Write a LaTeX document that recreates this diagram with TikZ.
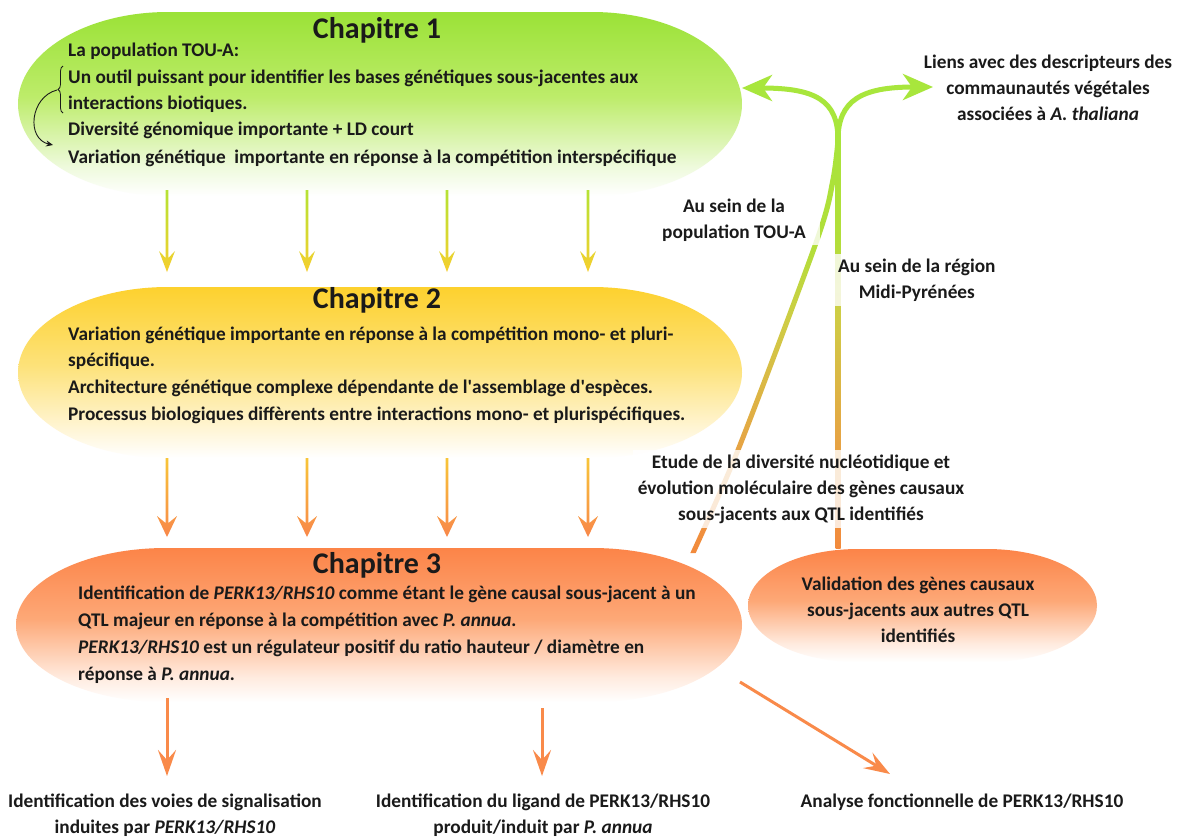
\documentclass[tikz,border=0pt]{standalone}
\usepackage{fontspec}
\setmainfont{Carlito}
\usetikzlibrary{arrows.meta,calc,decorations.pathreplacing}
\definecolor{c1a}{HTML}{9BE237}\definecolor{c1b}{HTML}{BDEC6A}\definecolor{c1c}{HTML}{EEFADC}
\definecolor{c2a}{HTML}{FDD12E}\definecolor{c2b}{HTML}{FDE27A}\definecolor{c2c}{HTML}{FFF6D8}
\definecolor{c3a}{HTML}{FC8448}\definecolor{c3b}{HTML}{FDA877}\definecolor{c3c}{HTML}{FFEBDF}
\definecolor{sO}{HTML}{F28A3C}\definecolor{sY2}{HTML}{E6A444}\definecolor{sY1}{HTML}{CFCC45}
\definecolor{sG2}{HTML}{B2DE3A}\definecolor{sG}{HTML}{A8E43A}
\definecolor{grn}{HTML}{A8E63C}\definecolor{arrO}{HTML}{F98A4A}
\definecolor{aG}{HTML}{B5E233}\definecolor{aY}{HTML}{F5CF2E}\definecolor{aY2}{HTML}{F8C538}\definecolor{aO}{HTML}{F8874A}
\definecolor{ink}{HTML}{1A1A1A}
\pgfdeclareverticalshading{chA}{100bp}{color(0bp)=(white); color(25bp)=(white); color(33bp)=(c1c); color(52bp)=(c1b); color(75bp)=(c1a); color(100bp)=(c1a)}
\pgfdeclareverticalshading{chB}{100bp}{color(0bp)=(white); color(25bp)=(white); color(33bp)=(c2c); color(52bp)=(c2b); color(75bp)=(c2a); color(100bp)=(c2a)}
\pgfdeclareverticalshading{chC}{100bp}{color(0bp)=(white); color(25bp)=(white); color(33bp)=(c3c); color(52bp)=(c3b); color(75bp)=(c3a); color(100bp)=(c3a)}
\pgfdeclareverticalshading{stem}{100bp}{color(0bp)=(sO); color(25bp)=(sO); color(38bp)=(sY2); color(53bp)=(sY1); color(62bp)=(sG2); color(75bp)=(sG); color(100bp)=(sG)}
\newcommand{\gradarrow}[5]{%
  \shade[top color=#3, bottom color=#4] ($(#1)+(-1.4,0)$) -- ($(#2)+(-1.4,14)$) -- ($(#2)+(-#5,21)$) -- (#2) -- ($(#2)+(#5,21)$) -- ($(#2)+(1.4,14)$) -- ($(#1)+(1.4,0)$) -- cycle;}
\begin{document}
\begin{tikzpicture}[x=1pt,y=1pt,
  txt/.style={font=\bfseries\fontsize{19.3}{26}\selectfont, text=ink, inner sep=0pt},
  line/.style={txt, anchor=base west},
  ttl/.style={font=\bfseries\fontsize{30}{32}\selectfont, text=ink, inner sep=0pt},
  lbl/.style={txt, align=center},
  gap/.style={fill=white, fill opacity=0.8, text opacity=1, inner sep=5pt},
  oarrow/.style={draw=arrO, line width=3pt, -{Stealth[length=26pt,width=18pt,inset=10pt]}},
  garrow/.style={draw=grn, line width=5pt, -{Stealth[length=30pt,width=26pt,inset=9pt]}},
]
\useasboundingbox (0,0) rectangle (1180,-836);
\fill[white] (0,0) rectangle (1180,-836);

% chapter shapes
\shade[shading=chA] (168,-12) -- (592,-12) arc[start angle=90,end angle=-90,x radius=150,y radius=92] -- (168,-196) arc[start angle=270,end angle=90,x radius=150,y radius=92] -- cycle;
\shade[shading=chB] (168,-287) -- (592,-287) arc[start angle=90,end angle=-90,x radius=150,y radius=85.5] -- (168,-458) arc[start angle=270,end angle=90,x radius=150,y radius=85.5] -- cycle;
\shade[shading=chC] (166,-548) -- (592,-548) arc[start angle=90,end angle=-90,x radius=150,y radius=77] -- (166,-702) arc[start angle=270,end angle=90,x radius=150,y radius=77] -- cycle;
\shade[shading=chC] (858,-549) -- (987,-549) arc[start angle=90,end angle=-90,x radius=110,y radius=56.5] -- (858,-662) arc[start angle=270,end angle=90,x radius=110,y radius=56.5] -- cycle;

% chapter 1 text
\node[ttl] (t1) at (377,-30) {Chapitre 1};
\node[line] (c1a) at (68,-56) {La population TOU-A:};
\node[line] (c1b) at (68,-83) {Un outil puissant pour identifier les bases génétiques sous-jacentes aux};
\node[line] (c1c) at (68,-109) {interactions biotiques.};
\node[line] (c1d) at (68,-135) {Diversité génomique importante + LD court};
\node[line] (c1e) at (68,-163) {Variation génétique\ \ importante en réponse à la compétition interspécifique};
\coordinate (brb) at (63,-113);
\coordinate (brt) at (63,-66);
\draw[ink, line width=0.8pt, decorate, decoration={brace, amplitude=5pt}] (brb) -- (brt);
\coordinate (bra) at (57,-90);
\coordinate (brx) at (53,-145);
\draw[ink, line width=0.9pt, -{Stealth[length=7pt,width=6pt]}] (bra) .. controls (30,-97) and (26,-139) .. (brx);

% chapter 2 text
\node[ttl] (t2) at (377,-300) {Chapitre 2};
\node[line] (c2a) at (68,-340) {Variation génétique importante en réponse à la compétition mono- et pluri-};
\node[line] (c2b) at (68,-366) {spécifique.};
\node[line] (c2c) at (68,-393) {Architecture génétique complexe dépendante de l\textquotesingle assemblage d\textquotesingle espèces.};
\node[line] (c2d) at (68,-420) {Processus biologiques diffèrents entre interactions mono- et plurispécifiques.};

% chapter 3 text
\node[ttl] (t3) at (377,-565) {Chapitre 3};
\node[line] (c3a) at (78,-599) {Identification de \textit{PERK13/RHS10} comme étant le gène causal sous-jacent à un};
\node[line] (c3b) at (78,-626) {QTL majeur en réponse à la compétition avec \textit{P. annua.}};
\node[line] (c3c) at (78,-653) {\textit{PERK13/RHS10} est un régulateur positif du ratio hauteur / diamètre en};
\node[line] (c3d) at (78,-680) {réponse à \textit{P. annua.}};

\node[lbl] (val) at (918,-610) {Validation des gènes causaux\\sous-jacents aux autres QTL\\identifiés};

% arrows between chapters
\foreach \x [count=\i] in {167,307,447,588}{
  \coordinate (u\i) at (\x,-190);
  \coordinate (v\i) at (\x,-272);
  \coordinate (w\i) at (\x,-458);
  \coordinate (z\i) at (\x,-537);
  \gradarrow{u\i}{v\i}{aG}{aY}{8}
  \gradarrow{w\i}{z\i}{aY2}{aO}{10}
}

% stems
\coordinate (jn) at (838,-140);
\coordinate (vtop) at (838,-132);
\coordinate (vend) at (838,-548);
\shade[shading=stem] ($(vtop)+(-2.5,0)$) rectangle ($(vend)+(2.5,0)$);
\shade[shading=stem] plot[smooth] coordinates {(835.5,-140) (830.3,-180) (814.3,-240) (737.3,-445) (690.3,-553)}
   -- plot[smooth] coordinates {(695.7,-553) (742.7,-445) (819.7,-240) (835.7,-180) (840.5,-140)} -- cycle;
\coordinate (lt) at (742,-88);
\coordinate (rt) at (933,-87);
\draw[garrow] (jn) .. controls (838,-100) and (815,-88) .. (lt);
\draw[garrow] (jn) .. controls (838,-100) and (862,-87) .. (rt);

% labels
\node[lbl] (liens) at (1048,-88) {Liens avec des descripteurs des\\commaunautés végétales\\associées à \textit{A. thaliana}};
\node[lbl, gap, inner xsep=14pt, inner ysep=4pt] (tou) at (734,-220) {Au sein de la\\population TOU-A};
\node[lbl, gap, anchor=west] (midi) at (833,-280) {Au sein de la région\\Midi-Pyrénées};
\node[lbl, gap] (etude) at (801,-489) {Etude de la diversité nucléotidique et\\évolution moléculaire des gènes causaux\\sous-jacents aux QTL identifiés};

% bottom arrows
\coordinate (b1s) at (167,-698); \coordinate (b1e) at (167,-776);
\coordinate (b2s) at (542,-708); \coordinate (b2e) at (542,-776);
\coordinate (b3s) at (740,-682); \coordinate (b3e) at (890,-774);
\draw[oarrow] (b1s) -- (b1e);
\draw[oarrow] (b2s) -- (b2e);
\draw[oarrow] (b3s) -- (b3e);

\node[lbl] (o1) at (165,-815) {Identification des voies de signalisation\\induites par \textit{PERK13/RHS10}};
\node[lbl] (o2) at (543,-815) {Identification du ligand de PERK13/RHS10\\produit/induit par \textit{P. annua}};
\node[lbl] (o3) at (962,-802) {Analyse fonctionnelle de PERK13/RHS10};
\end{tikzpicture}
\end{document}
